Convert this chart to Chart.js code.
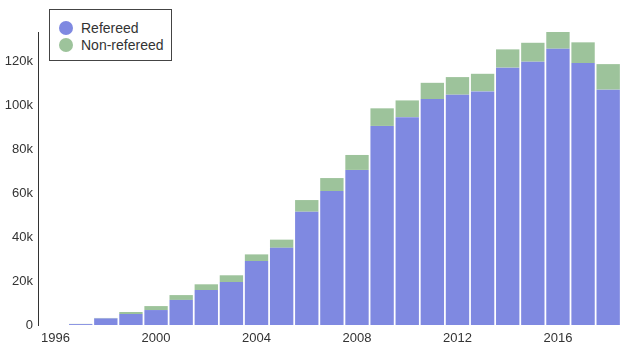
<!DOCTYPE html>
<html>
<head>
<meta charset="utf-8">
<script src="https://cdn.jsdelivr.net/npm/chart.js@4/dist/chart.umd.min.js"></script>
<style>
  html, body { margin: 0; padding: 0; background: #fff; }
  #wrap { position: relative; width: 632px; height: 364px; }
  #legend {
    position: absolute; left: 49px; top: 9px; width: 123px; height: 52px;
    border: 1.5px solid #444; background: #fff;
    font-family: "Liberation Sans", Arial, sans-serif; font-size: 14px; color: #333;
    box-sizing: border-box; padding: 9px 0 0 9px;
  }
  .item { display: flex; align-items: center; height: 17px; }
  .dot { width: 14px; height: 14px; border-radius: 50%; margin-right: 8px; }
</style>
</head>
<body>
<div id="wrap">
  <canvas id="chart" width="632" height="364"></canvas>
  <div id="legend">
    <div class="item"><span class="dot" style="background:#7f89e1"></span>Refereed</div>
    <div class="item"><span class="dot" style="background:#9dc39b"></span>Non-refereed</div>
  </div>
</div>
<script>
const years = [1996, 1997, 1998, 1999, 2000, 2001, 2002, 2003, 2004, 2005, 2006, 2007,
               2008, 2009, 2010, 2011, 2012, 2013, 2014, 2015, 2016, 2017, 2018];
const refereed = [0, 400, 3000, 5000, 6800, 11400, 15900, 19500, 29100, 35100, 51500, 60900,
                  70500, 90500, 94500, 102700, 104700, 106200, 117000, 119700, 125600, 119100, 107000];
const nonRefereed = [0, 100, 200, 900, 1800, 2200, 2600, 3100, 3000, 3700, 5300, 5900,
                     6800, 8000, 7600, 7400, 8000, 8000, 8300, 8600, 7600, 9400, 11600];
const yTicks = [0, 20000, 40000, 60000, 80000, 100000, 120000];

const font = { family: '"Liberation Sans", Arial, sans-serif', size: 13 };

new Chart(document.getElementById('chart'), {
    type: 'bar',
    data: {
        datasets: [
            {
                label: 'Refereed',
                data: years.map((y, i) => ({ x: y, y: refereed[i] })),
                backgroundColor: '#7f89e1',
                barPercentage: 0.93,
                categoryPercentage: 1
            },
            {
                label: 'Non-refereed',
                data: years.map((y, i) => ({ x: y, y: nonRefereed[i] })),
                backgroundColor: '#9dc39b',
                barPercentage: 0.93,
                categoryPercentage: 1
            }
        ]
    },
    options: {
        responsive: false,
        animation: false,
        layout: { padding: { top: 32, right: 10, bottom: 0, left: 0 } },
        plugins: { legend: { display: false }, tooltip: { enabled: false } },
        scales: {
            x: {
                type: 'linear',
                stacked: true,
                offset: false,
                min: 1995.3,
                max: 2018.55,
                grid: { display: false, drawTicks: false },
                border: { display: false },
                afterFit: s => { s.height = 39; },
                afterBuildTicks: s => { s.ticks = years.filter(y => y % 4 === 0).map(v => ({ value: v })); },
                ticks: {
                    padding: 6,
                    color: '#333',
                    font: font,
                    maxRotation: 0,
                    autoSkip: false,
                    callback: v => String(v)
                }
            },
            y: {
                stacked: true,
                min: 0,
                max: 133200,
                grid: { display: false, drawTicks: false },
                border: { display: true, color: '#333', width: 1 },
                afterFit: s => { s.width = 38; },
                afterBuildTicks: s => { s.ticks = yTicks.map(v => ({ value: v })); },
                ticks: {
                    padding: 5,
                    color: '#333',
                    font: font,
                    callback: v => v === 0 ? '0' : (v / 1000) + 'k'
                }
            }
        }
    }
});
</script>
</body>
</html>
